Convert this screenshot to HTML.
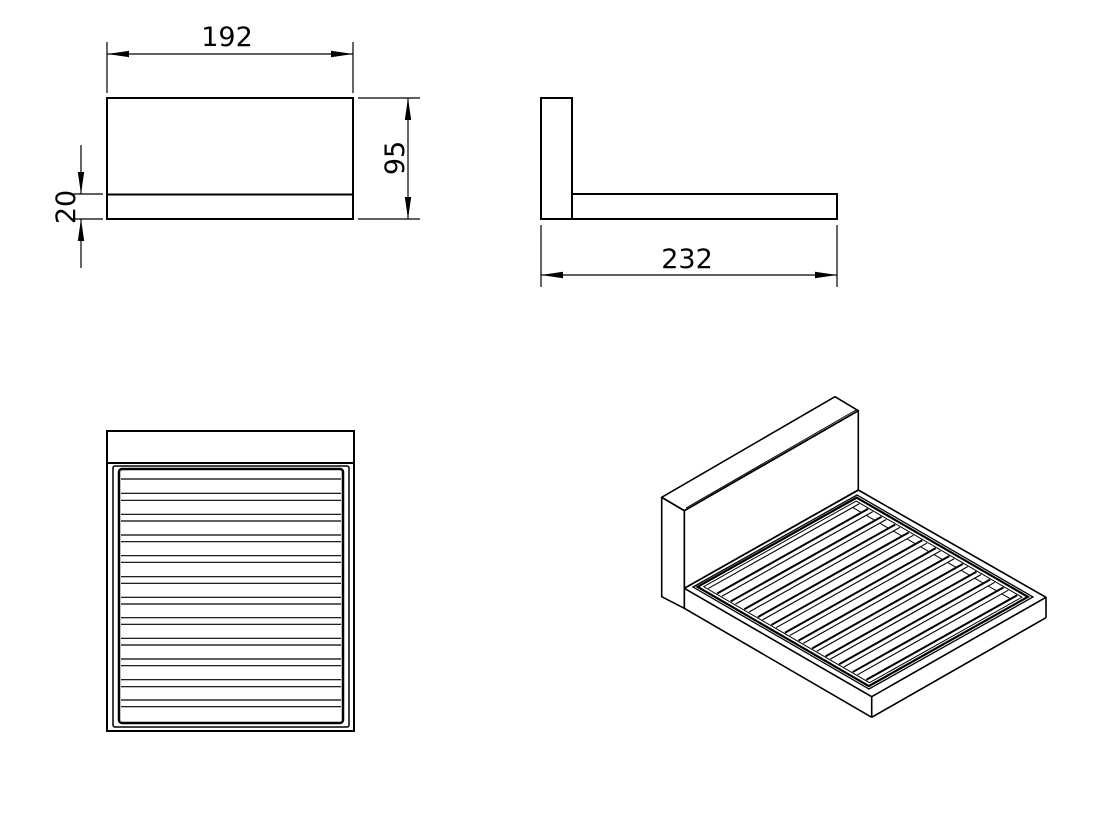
<!DOCTYPE html>
<html><head><meta charset="utf-8"><style>
html,body{margin:0;padding:0;background:#fff;}
svg{display:block}
text{font-family:"DejaVu Sans","Liberation Sans",sans-serif;fill:#000}
</style></head><body>
<svg width="1108" height="814" viewBox="0 0 1108 814" xmlns="http://www.w3.org/2000/svg">
<defs>
<marker id="a" markerWidth="22" markerHeight="8" refX="22" refY="4" orient="auto" markerUnits="userSpaceOnUse"><path d="M0,0.8 L22,4 L0,7.2 Z" fill="#000"/></marker>
</defs>
<g stroke="#000" fill="none" stroke-width="1.2">
<!-- front view -->
<rect x="107" y="98" width="246" height="121" stroke-width="2"/>
<line x1="107" y1="194.5" x2="353" y2="194.5" stroke-width="2"/>
<line x1="107" y1="42" x2="107" y2="93"/>
<line x1="353" y1="42" x2="353" y2="93"/>
<line x1="230" y1="54" x2="107" y2="54" marker-end="url(#a)"/>
<line x1="230" y1="54" x2="353" y2="54" marker-end="url(#a)"/>
<line x1="358" y1="98" x2="420" y2="98"/>
<line x1="358" y1="219" x2="420" y2="219"/>
<line x1="408" y1="158" x2="408" y2="98" marker-end="url(#a)"/>
<line x1="408" y1="158" x2="408" y2="219" marker-end="url(#a)"/>
<line x1="70" y1="194" x2="103" y2="194"/>
<line x1="70" y1="219" x2="103" y2="219"/>
<line x1="81" y1="145" x2="81" y2="194" marker-end="url(#a)"/>
<line x1="81" y1="268" x2="81" y2="219" marker-end="url(#a)"/>
<!-- side view -->
<rect x="541" y="98" width="31" height="121" stroke-width="2"/>
<rect x="572" y="194" width="265" height="25" stroke-width="2"/>
<line x1="541" y1="225" x2="541" y2="287"/>
<line x1="837" y1="225" x2="837" y2="287"/>
<line x1="690" y1="275" x2="541" y2="275" marker-end="url(#a)"/>
<line x1="690" y1="275" x2="837" y2="275" marker-end="url(#a)"/>
<!-- top view -->
<rect x="107" y="431" width="247" height="300" stroke-width="2"/>
<line x1="107" y1="463" x2="354" y2="463" stroke-width="2"/>
<rect x="113" y="466" width="236" height="261" rx="2" stroke-width="1.5"/>
<rect x="119" y="469" width="224" height="254" rx="3" stroke-width="2.5"/>
<g>
<line x1="121" y1="479" x2="341" y2="479"/>
<line x1="121" y1="493.3" x2="341" y2="493.3"/><line x1="121" y1="500.3" x2="341" y2="500.3"/>
<line x1="121" y1="514.3" x2="341" y2="514.3"/><line x1="121" y1="521" x2="341" y2="521"/>
<line x1="121" y1="535" x2="341" y2="535"/><line x1="121" y1="541.7" x2="341" y2="541.7"/>
<line x1="121" y1="555.7" x2="341" y2="555.7"/><line x1="121" y1="562.3" x2="341" y2="562.3"/>
<line x1="121" y1="576.7" x2="341" y2="576.7"/><line x1="121" y1="583.3" x2="341" y2="583.3"/>
<line x1="121" y1="597.3" x2="341" y2="597.3"/><line x1="121" y1="604" x2="341" y2="604"/>
<line x1="121" y1="617.7" x2="341" y2="617.7"/><line x1="121" y1="624.3" x2="341" y2="624.3"/>
<line x1="121" y1="638.3" x2="341" y2="638.3"/><line x1="121" y1="645" x2="341" y2="645"/>
<line x1="121" y1="659" x2="341" y2="659"/><line x1="121" y1="665.7" x2="341" y2="665.7"/>
<line x1="121" y1="679.7" x2="341" y2="679.7"/><line x1="121" y1="686.7" x2="341" y2="686.7"/>
<line x1="121" y1="700" x2="341" y2="700"/><line x1="121" y1="706.7" x2="341" y2="706.7"/>
</g>
<!-- isometric -->
<g stroke-width="1.6" stroke-linejoin="round">
<polygon points="661.7,497.3 835,396.7 858.3,410.7 684.3,510.7"/>
<polygon points="684.3,510.7 858.3,410.7 858.3,490 684.3,588.3 684.3,608.3"/>
<polygon points="661.7,497.3 684.3,510.7 684.3,608.3 661.7,596.7"/>
<line x1="686" y1="508" x2="856" y2="410" stroke-width="1"/>
<polygon points="684.3,588.3 871.7,696.7 1046,597.3 858.3,490"/>
<line x1="684.3" y1="608.3" x2="871.7" y2="717.3"/>
<line x1="871.7" y1="696.7" x2="871.7" y2="717.3"/>
<line x1="871.7" y1="717.3" x2="1046" y2="617.7"/>
<line x1="1046" y1="597.3" x2="1046" y2="617.7"/>
</g>
<g transform="matrix(164,-92,176,102,693,587)">
<polygon points="0,0 1,0 1,1 0,1" vector-effect="non-scaling-stroke" stroke-width="1.3"/>
<polygon points="0.015,0.012 0.985,0.012 0.985,0.985 0.015,0.985" vector-effect="non-scaling-stroke" stroke-width="2.2"/>
<polygon points="0.035,0.028 0.965,0.028 0.965,0.97 0.035,0.97" vector-effect="non-scaling-stroke" stroke-width="1"/>
<path vector-effect="non-scaling-stroke" stroke-width="1.1" d="M0.04,0.05H0.96M0.04,0.127H0.96M0.04,0.204H0.96M0.04,0.281H0.96M0.04,0.358H0.96M0.04,0.435H0.96M0.04,0.512H0.96M0.04,0.589H0.96M0.04,0.666H0.96M0.04,0.743H0.96M0.04,0.82H0.96M0.04,0.897H0.96"/>
<path vector-effect="non-scaling-stroke" stroke-width="2" d="M0.04,0.1H0.96M0.04,0.177H0.96M0.04,0.254H0.96M0.04,0.331H0.96M0.04,0.408H0.96M0.04,0.485H0.96M0.04,0.562H0.96M0.04,0.639H0.96M0.04,0.716H0.96M0.04,0.793H0.96M0.04,0.87H0.96M0.04,0.947H0.96"/>
<path vector-effect="non-scaling-stroke" stroke-width="1" d="M0.92,0.05V0.1M0.92,0.127V0.177M0.92,0.204V0.254M0.92,0.281V0.331M0.92,0.358V0.408M0.92,0.435V0.485M0.92,0.512V0.562M0.92,0.589V0.639M0.92,0.666V0.716M0.92,0.743V0.793M0.92,0.82V0.87M0.92,0.897V0.947"/>
</g>
</g>
<text x="227" y="46" font-size="27" text-anchor="middle">192</text>
<text x="687" y="268" font-size="27" text-anchor="middle">232</text>
<text transform="translate(404,158) rotate(-90)" font-size="27" text-anchor="middle">95</text>
<text transform="translate(75,207) rotate(-90)" font-size="27" text-anchor="middle">20</text>
</svg>
</body></html>
